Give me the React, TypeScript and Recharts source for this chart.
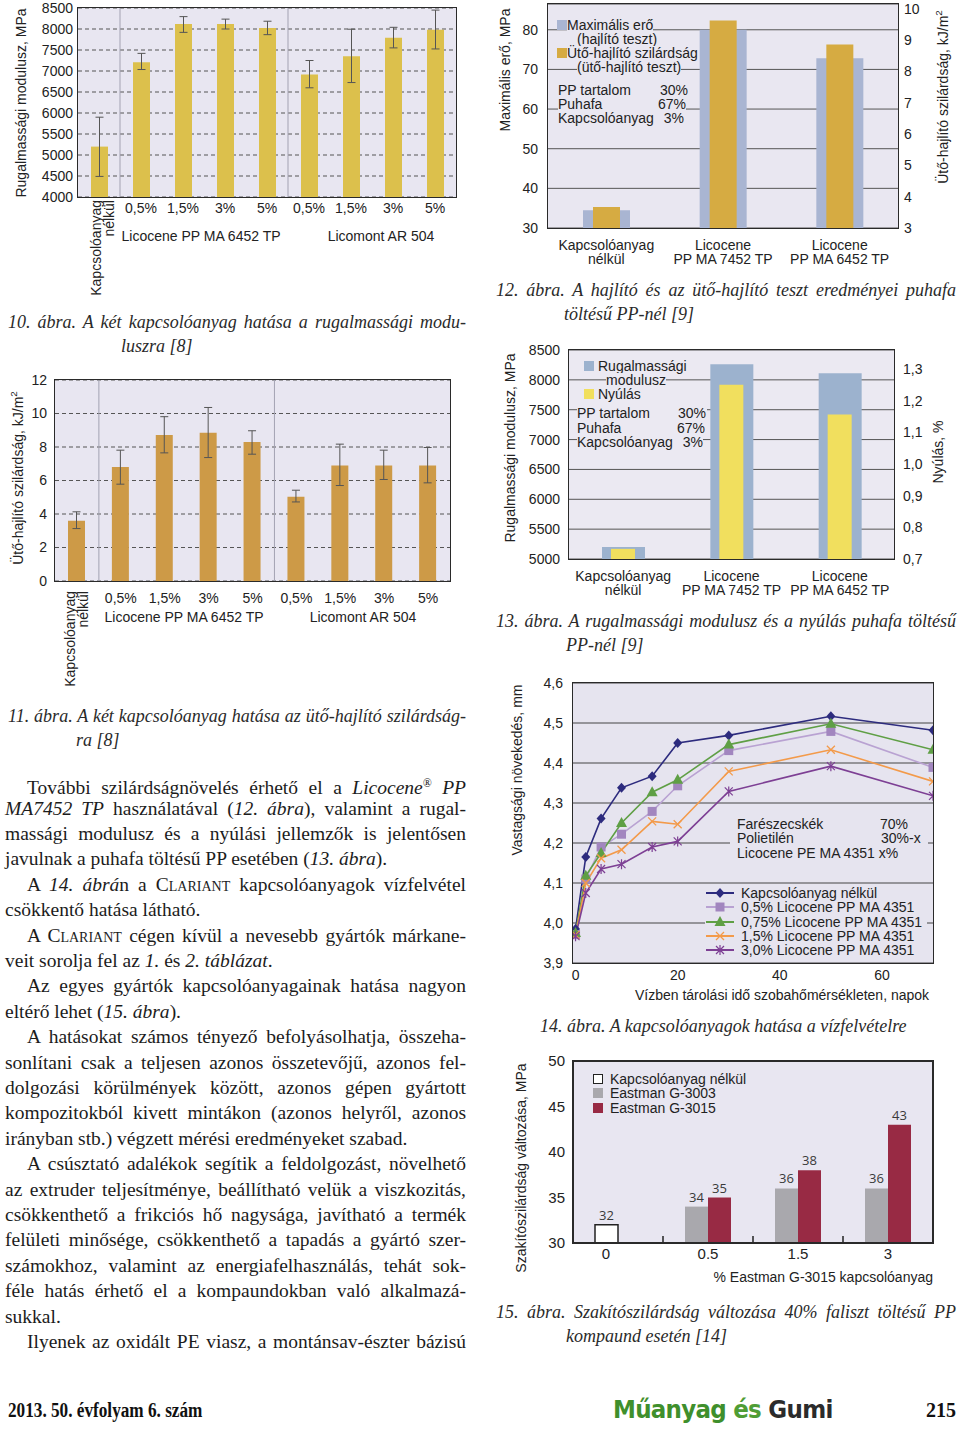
import React from 'react';
import {
  BarChart, Bar, XAxis, YAxis, CartesianGrid, ErrorBar, ReferenceLine,
  LineChart, Line, LabelList, Cell,
} from 'recharts';

const SANS = '"Liberation Sans", Arial, Helvetica, sans-serif';
const SERIF = '"Liberation Serif", "Times New Roman", serif';
const INK = '#222';
const PLOT_BG = '#e8e6f1';

// ---- 10. ábra: rugalmassági modulusz ----
const fig10Keys = ['none', 'lc05', 'lc15', 'lc3', 'lc5', 'lm05', 'lm15', 'lm3', 'lm5'];
const fig10Labels = ['Kapcsolóanyag nélkül', '0,5%', '1,5%', '3%', '5%', '0,5%', '1,5%', '3%', '5%'];
const fig10Modulus = [5200, 7210, 8120, 8120, 8025, 6915, 7350, 7790, 7985];
const fig10Low = [4490, 7035, 7920, 8000, 7865, 6600, 6725, 7550, 7525];
const fig10High = [5900, 7420, 8295, 8235, 8185, 7250, 7995, 8040, 8450];
const fig10Ticks = [4000, 4500, 5000, 5500, 6000, 6500, 7000, 7500, 8000, 8500];

// ---- 11. ábra: ütő-hajlító szilárdság ----
const fig11Impact = [3.6, 6.8, 8.72, 8.85, 8.3, 5.03, 6.9, 6.9, 6.9];
const fig11Low = [3.13, 5.78, 7.65, 7.37, 7.57, 4.72, 5.7, 6.06, 5.86];
const fig11High = [4.13, 7.81, 9.81, 10.36, 8.97, 5.42, 8.17, 7.81, 7.97];
const fig11Ticks = [0, 2, 4, 6, 8, 10, 12];

const groupSeparators = ['lc05', 'lm05'];

// ---- 12. ábra ----
const fig12Cats = ['Kapcsolóanyag\nnélkül', 'Licocene\nPP MA 7452 TP', 'Licocene\nPP MA 6452 TP'];
const fig12Force = [34.5, 80, 72.8];
const fig12Impact = [3.67, 9.62, 8.86];
const fig12LeftTicks = [30, 40, 50, 60, 70, 80];
const fig12RightTicks = [3, 4, 5, 6, 7, 8, 9, 10];

// ---- 13. ábra ----
const fig13Cats = ['Kapcsolóanyag\nnélkül', 'Licocene\nPP MA 7452 TP', 'Licocene\nPP MA 6452 TP'];
const fig13Modulus = [5200, 8260, 8110];
const fig13Elong = [0.732, 1.25, 1.156];
const fig13LeftTicks = [5000, 5500, 6000, 6500, 7000, 7500, 8000, 8500];
const fig13RightTicks = [0.7, 0.8, 0.9, 1.0, 1.1, 1.2, 1.3];

// ---- 14. ábra ----
const fig14Days = [0, 2, 5, 9, 15, 20, 30, 50, 70];
const fig14None = [3.985, 4.165, 4.261, 4.338, 4.367, 4.45, 4.469, 4.517, 4.482];
const fig14Lc05 = [3.971, 4.11, 4.19, 4.222, 4.279, 4.343, 4.431, 4.479, 4.389];
const fig14Lc075 = [3.975, 4.118, 4.175, 4.25, 4.327, 4.358, 4.446, 4.498, 4.433];
const fig14Lc15 = [3.97, 4.1, 4.162, 4.183, 4.254, 4.247, 4.379, 4.433, 4.354];
const fig14Lc30 = [3.967, 4.075, 4.135, 4.147, 4.19, 4.204, 4.329, 4.392, 4.318];
const fig14YTicks = [3.9, 4.0, 4.1, 4.2, 4.3, 4.4, 4.5, 4.6];
const fig14XTicks = [0, 20, 40, 60];

// ---- 15. ábra ----
const fig15Cats = ['0', '0.5', '1.5', '3'];
const fig15None = [32];
const fig15G3003 = [34, 36, 36];
const fig15G3015 = [35, 38, 43];
const fig15Ticks = [30, 35, 40, 45, 50];

const fig10Data = fig10Keys.map((k, i) => ({
  key: k,
  value: fig10Modulus[i],
  err: [fig10Modulus[i] - fig10Low[i], fig10High[i] - fig10Modulus[i]],
}));
const fig11Data = fig10Keys.map((k, i) => ({
  key: k,
  value: fig11Impact[i],
  err: [fig11Impact[i] - fig11Low[i], fig11High[i] - fig11Impact[i]],
}));
const fig12Data = fig12Cats.map((c, i) => ({ cat: c, force: fig12Force[i], impact: fig12Impact[i] }));
const fig13Data = fig13Cats.map((c, i) => ({ cat: c, modulus: fig13Modulus[i], elong: fig13Elong[i] }));
const fig14Data = fig14Days.map((d, i) => ({
  day: d, none: fig14None[i], lc05: fig14Lc05[i], lc075: fig14Lc075[i], lc15: fig14Lc15[i], lc30: fig14Lc30[i],
}));
const fig15Data = fig15Cats.map((c, i) => ({
  cat: c,
  left: i === 0 ? fig15None[0] : fig15G3003[i - 1],
  right: i === 0 ? null : fig15G3015[i - 1],
}));

const comma1 = (v: number) => v.toFixed(1).replace('.', ',');

// markers for fig 14
const marker = (kind: string, cx: number, cy: number, c: string) => {
  switch (kind) {
    case 'diamond':
      return <path d={`M${cx},${cy - 5}L${cx + 4.5},${cy}L${cx},${cy + 5}L${cx - 4.5},${cy}Z`} fill={c} />;
    case 'square':
      return <rect x={cx - 4.5} y={cy - 4.5} width={9} height={9} fill={c} />;
    case 'triangle':
      return <path d={`M${cx},${cy - 6}L${cx + 5.5},${cy + 4}L${cx - 5.5},${cy + 4}Z`} fill={c} />;
    case 'cross':
      return <path d={`M${cx - 4},${cy - 4}L${cx + 4},${cy + 4}M${cx + 4},${cy - 4}L${cx - 4},${cy + 4}`} stroke={c} strokeWidth={1.3} fill="none" />;
    default:
      return <path d={`M${cx - 4},${cy - 4}L${cx + 4},${cy + 4}M${cx + 4},${cy - 4}L${cx - 4},${cy + 4}M${cx},${cy - 5}L${cx},${cy + 5}`} stroke={c} strokeWidth={1.2} fill="none" />;
  }
};

const fig14Series = [
  { key: 'none', name: 'Kapcsolóanyag nélkül', line: '#2d2b7e', mark: '#2d2b7e', kind: 'diamond' },
  { key: 'lc05', name: '0,5% Licocene PP MA 4351', line: '#b9a2d2', mark: '#a286bf', kind: 'square' },
  { key: 'lc075', name: '0,75% Licocene PP MA 4351', line: '#5f9f45', mark: '#5f9f45', kind: 'triangle' },
  { key: 'lc15', name: '1,5% Licocene PP MA 4351', line: '#f39a4a', mark: '#f39a4a', kind: 'cross' },
  { key: 'lc30', name: '3,0% Licocene PP MA 4351', line: '#7d3f94', mark: '#7d3f94', kind: 'star' },
];

// ---------- helpers ----------
type TxtProps = { x: number; y: number; children: React.ReactNode; size?: number; anchor?: 'start' | 'middle' | 'end'; font?: string; style?: React.CSSProperties };
function Txt({ x, y, children, size = 14, anchor = 'start', font = SANS, style }: TxtProps) {
  const tx = anchor === 'middle' ? '-50%' : anchor === 'end' ? '-100%' : '0';
  return (
    <div style={{
      position: 'absolute', left: x, top: y, transform: `translate(${tx}, -50%)`,
      fontFamily: font, fontSize: size, lineHeight: 1, whiteSpace: 'nowrap', color: INK, ...style,
    }}>{children}</div>
  );
}

function VLabel({ x, y, children, size = 14 }: { x: number; y: number; children: React.ReactNode; size?: number }) {
  return (
    <div style={{
      position: 'absolute', left: x, top: y, transform: 'translate(-50%, -50%) rotate(-90deg)',
      fontFamily: SANS, fontSize: size, lineHeight: 1, whiteSpace: 'nowrap', color: INK,
    }}>{children}</div>
  );
}

function Frame({ x, y, w, h, bw = 1.5 }: { x: number; y: number; w: number; h: number; bw?: number }) {
  return (
    <div style={{
      position: 'absolute', left: x - bw / 2, top: y - bw / 2, width: w + bw, height: h + bw,
      border: `${bw}px solid #2a2a2a`, boxSizing: 'border-box', pointerEvents: 'none',
    }} />
  );
}

function Box({ x, y, w, h, children }: { x: number; y: number; w: number; h: number; children?: React.ReactNode }) {
  return <div style={{ position: 'absolute', left: x, top: y, width: w, height: h }}>{children}</div>;
}

function Swatch({ x, y, color, border }: { x: number; y: number; color: string; border?: string }) {
  return <div style={{ position: 'absolute', left: x, top: y - 5, width: 10, height: 10, background: color, border: border, boxSizing: 'border-box' }} />;
}

const makeGroupTick = (labels: string[], keys: string[], pctDy: number, l1: number, l2: number, rotTop: number) =>
  (props: any) => {
    const { x, y, payload } = props;
    const i = keys.indexOf(payload.value);
    if (i === 0) {
      return (
        <g transform={`translate(${x},${y + rotTop})`}>
          <text transform="rotate(-90)" textAnchor="end" fontSize={14} fontFamily={SANS} fill={INK}>
            <tspan x={0} y={l1}>Kapcsolóanyag</tspan>
            <tspan x={0} y={l2}>nélkül</tspan>
          </text>
        </g>
      );
    }
    return (
      <text x={x} y={y + pctDy} textAnchor="middle" fontSize={14} fontFamily={SANS} fill={INK}>{labels[i]}</text>
    );
  };

const makeTwoLineTick = (d1: number, d2: number) => (props: any) => {
  const { x, y, payload } = props;
  const [a, b] = String(payload.value).split('\n');
  return (
    <text textAnchor="middle" fontSize={14} fontFamily={SANS} fill={INK}>
      <tspan x={x} y={y + d1}>{a}</tspan>
      <tspan x={x} y={y + d2}>{b}</tspan>
    </text>
  );
};

const fig15Tick = (props: any) => {
  const { x, y, payload, index } = props;
  const half = 360 / fig15Cats.length / 2;
  return (
    <g>
      {index > 0 && <line x1={x - half} x2={x - half} y1={y} y2={y - 7} stroke="#222" strokeWidth={1.5} />}
      <text x={index === 0 ? x - 12 : x} y={y + 16} textAnchor="middle" fontSize={15} fontFamily={SANS} fill={INK}>{payload.value}</text>
    </g>
  );
};

const TopLabel = (p: any) => {
  if (p.value == null) return null;
  return (
    <text x={p.x + p.width / 2} y={p.y - 5} textAnchor="middle" fontSize={13} fontFamily='"Open Sans", "Noto Sans", sans-serif' fill="#3a3a3a">{p.value}</text>
  );
};

const yTick = { fontSize: 14, fill: INK, fontFamily: SANS };

// ---------- body text ----------
const I = ({ children }: { children: React.ReactNode }) => <i>{children}</i>;
const SC = ({ children }: { children: React.ReactNode }) => <span style={{ fontVariant: 'small-caps' }}>{children}</span>;

const bodyLines: { indent?: boolean; last?: boolean; node: React.ReactNode }[] = [
  { indent: true, node: <>További szilárdságnövelés érhető el a <I>Licocene<sup style={{ fontSize: '0.6em' }}>®</sup> PP</I></> },
  { node: <><I>MA7452 TP</I> használatával (<I>12. ábra</I>), valamint a rugal-</> },
  { node: <>massági modulusz és a nyúlási jellemzők is jelentősen</> },
  { last: true, node: <>javulnak a puhafa töltésű PP esetében (<I>13. ábra</I>).</> },
  { indent: true, node: <>A <I>14. ábrá</I>n a <SC>Clariant</SC> kapcsolóanyagok vízfelvétel</> },
  { last: true, node: <>csökkentő hatása látható.</> },
  { indent: true, node: <>A <SC>Clariant</SC> cégen kívül a nevesebb gyártók márkane-</> },
  { last: true, node: <>veit sorolja fel az <I>1.</I> és <I>2. táblázat</I>.</> },
  { indent: true, node: <>Az egyes gyártók kapcsolóanyagainak hatása nagyon</> },
  { last: true, node: <>eltérő lehet (<I>15. ábra</I>).</> },
  { indent: true, node: <>A hatásokat számos tényező befolyásolhatja, összeha-</> },
  { node: <>sonlítani csak a teljesen azonos összetevőjű, azonos fel-</> },
  { node: <>dolgozási körülmények között, azonos gépen gyártott</> },
  { node: <>kompozitokból kivett mintákon (azonos helyről, azonos</> },
  { last: true, node: <>irányban stb.) végzett mérési eredményeket szabad.</> },
  { indent: true, node: <>A csúsztató adalékok segítik a feldolgozást, növelhető</> },
  { node: <>az extruder teljesítménye, beállítható velük a viszkozitás,</> },
  { node: <>csökkenthető a frikciós hő nagysága, javítható a termék</> },
  { node: <>felületi minősége, csökkenthető a tapadás a gyártó szer-</> },
  { node: <>számokhoz, valamint az energiafelhasználás, tehát sok-</> },
  { node: <>féle hatás érhető el a kompaundokban való alkalmazá-</> },
  { last: true, node: <>sukkal.</> },
  { indent: true, node: <>Ilyenek az oxidált PE viasz, a montánsav-észter bázisú</> },
];

function Caption({ x, y, w, line1, line2, indent2 }: { x: number; y: number; w: number; line1: string; line2?: string; indent2?: number }) {
  const common: React.CSSProperties = { position: 'absolute', fontFamily: SERIF, fontStyle: 'italic', fontSize: 18, lineHeight: '24px', color: '#2a2a2a', whiteSpace: 'nowrap' };
  return (
    <>
      <div style={{ ...common, left: x, top: y - 12, width: w, textAlign: line2 ? 'justify' : 'left', textAlignLast: line2 ? 'justify' : 'left', whiteSpace: 'normal' }}>{line1}</div>
      {line2 && <div style={{ ...common, left: indent2, top: y + 12 }}>{line2}</div>}
    </>
  );
}

export default function App() {
  return (
    <div style={{ position: 'absolute', left: 0, top: 0, width: 960, height: 1429, background: '#fff', overflow: 'hidden' }}>
      {/* ---------- 10. ábra ---------- */}
      <Box x={0} y={0} w={470} h={300}>
        <BarChart width={470} height={300} data={fig10Data} margin={{ top: 8, right: 14, bottom: 0, left: 0 }} barSize={17}>
          <CartesianGrid vertical={false} fill={PLOT_BG} stroke="#555" strokeDasharray="4 3" />
          <XAxis dataKey="key" height={103} axisLine={false} tickLine={false} tickSize={0} tickMargin={0} interval={0}
            tick={makeGroupTick(fig10Labels, fig10Keys, 16, 2, 15, 3)} />
          <YAxis width={78} domain={[4000, 8500]} ticks={fig10Ticks} interval={0} axisLine={false} tickLine={false} tickSize={0} tickMargin={5} tick={yTick} allowDataOverflow />
          {groupSeparators.map((k) => (
            <ReferenceLine key={k} x={k} position="start" stroke="#a3a2b2" strokeWidth={1} />
          ))}
          <Bar dataKey="value" fill="#dcc04c" isAnimationActive={false}>
            <ErrorBar dataKey="err" width={4} stroke="#555" strokeWidth={1} direction="y" />
          </Bar>
        </BarChart>
      </Box>
      <Frame x={78} y={8} w={378} h={189} />
      <VLabel x={21} y={103}>Rugalmassági modulusz, MPa</VLabel>
      <Txt x={201} y={236} anchor="middle">Licocene PP MA 6452 TP</Txt>
      <Txt x={381} y={236} anchor="middle">Licomont AR 504</Txt>
      <Caption x={8} y={322} w={458} line1="10. ábra. A két kapcsolóanyag hatása a rugalmassági modu-" line2="luszra [8]" indent2={121} />

      {/* ---------- 11. ábra ---------- */}
      <Box x={0} y={360} w={470} h={340}>
        <BarChart width={470} height={340} data={fig11Data} margin={{ top: 20, right: 20, bottom: 0, left: 0 }} barSize={17}>
          <CartesianGrid vertical={false} fill={PLOT_BG} stroke="#555" strokeDasharray="4 3" />
          <XAxis dataKey="key" height={119} axisLine={false} tickLine={false} tickSize={0} tickMargin={0} interval={0}
            tick={makeGroupTick(fig10Labels, fig10Keys, 22, -2, 11, 10)} />
          <YAxis width={55} domain={[0, 12]} ticks={fig11Ticks} interval={0} axisLine={false} tickLine={false} tickSize={0} tickMargin={8} tick={yTick} />
          {groupSeparators.map((k) => (
            <ReferenceLine key={k} x={k} position="start" stroke="#a3a2b2" strokeWidth={1} />
          ))}
          <Bar dataKey="value" fill="#cd9a47" isAnimationActive={false}>
            <ErrorBar dataKey="err" width={4} stroke="#555" strokeWidth={1} direction="y" />
          </Bar>
        </BarChart>
      </Box>
      <Frame x={55} y={380} w={395} h={201} />
      <VLabel x={17} y={478}>Ütő-hajlító szilárdság, kJ/m<sup style={{ fontSize: '0.7em' }}>2</sup></VLabel>
      <Txt x={184} y={617} anchor="middle">Licocene PP MA 6452 TP</Txt>
      <Txt x={363} y={617} anchor="middle">Licomont AR 504</Txt>
      <Caption x={8} y={716} w={458} line1="11. ábra. A két kapcsolóanyag hatása az ütő-hajlító szilárdság-" line2="ra [8]" indent2={76} />

      {/* ---------- 12. ábra ---------- */}
      <Box x={490} y={0} w={470} h={270}>
        <BarChart width={470} height={270} data={fig12Data} margin={{ top: 4, right: 0, bottom: 0, left: 0 }}>
          <CartesianGrid vertical={false} fill="#e9e7f1" stroke="#555" xAxisId="a" yAxisId="left" />
          <XAxis xAxisId="a" dataKey="cat" height={42} axisLine={false} tickLine={false} tickSize={0} tickMargin={0} interval={0} tick={makeTwoLineTick(22, 36)} />
          <XAxis xAxisId="b" dataKey="cat" hide />
          <YAxis yAxisId="left" width={58} domain={[30, 86.5]} ticks={fig12LeftTicks} interval={0} axisLine={false} tickLine={false} tickSize={0} tickMargin={10} tick={yTick} allowDataOverflow />
          <YAxis yAxisId="right" orientation="right" width={62} domain={[3, 10.15]} ticks={fig12RightTicks} interval={0} axisLine={false} tickLine={false} tickSize={0} tickMargin={6} tick={yTick} allowDataOverflow />
          <Bar xAxisId="a" yAxisId="left" dataKey="force" fill="#a9b5d2" barSize={47} isAnimationActive={false} />
          <Bar xAxisId="b" yAxisId="right" dataKey="impact" fill="#d6ab42" barSize={27} isAnimationActive={false} />
        </BarChart>
      </Box>
      <Frame x={548} y={4} w={350} h={224} />
      <VLabel x={505} y={70}>Maximális erő, MPa</VLabel>
      <VLabel x={942} y={97}>Ütő-hajlító szilárdság, kJ/m<sup style={{ fontSize: '0.7em' }}>2</sup></VLabel>
      <Swatch x={557} y={25} color="#a9b5d2" />
      <Txt x={567} y={25} style={{ background: '#e9e7f1' }}>Maximális erő</Txt>
      <Txt x={577} y={39} style={{ background: '#e9e7f1' }}>(hajlító teszt)</Txt>
      <Swatch x={557} y={53} color="#d6ab42" />
      <Txt x={567} y={53} style={{ background: '#e9e7f1' }}>Ütő-hajlító szilárdság</Txt>
      <Txt x={577} y={67} style={{ background: '#e9e7f1' }}>(ütő-hajlító teszt)</Txt>
      <Txt x={558} y={90} style={{ background: '#e9e7f1', width: 130 }}>PP tartalom</Txt>
      <Txt x={688} y={90} anchor="end">30%</Txt>
      <Txt x={558} y={104} style={{ background: '#e9e7f1', width: 128 }}>Puhafa</Txt>
      <Txt x={686} y={104} anchor="end">67%</Txt>
      <Txt x={558} y={118} style={{ background: '#e9e7f1', width: 126 }}>Kapcsolóanyag</Txt>
      <Txt x={684} y={118} anchor="end">3%</Txt>
      <Caption x={496} y={290} w={460} line1="12. ábra. A hajlító és az ütő-hajlító teszt eredményei puhafa" line2="töltésű PP-nél [9]" indent2={564} />

      {/* ---------- 13. ábra ---------- */}
      <Box x={490} y={340} w={470} h={260}>
        <BarChart width={470} height={260} data={fig13Data} margin={{ top: 10, right: 0, bottom: 0, left: 0 }}>
          <CartesianGrid vertical={false} fill="#ebe9f2" stroke="#555" xAxisId="a" yAxisId="left" />
          <XAxis xAxisId="a" dataKey="cat" height={41} axisLine={false} tickLine={false} tickSize={0} tickMargin={0} interval={0} tick={makeTwoLineTick(22, 36)} />
          <XAxis xAxisId="b" dataKey="cat" hide />
          <YAxis yAxisId="left" width={79} domain={[5000, 8500]} ticks={fig13LeftTicks} interval={0} axisLine={false} tickLine={false} tickSize={0} tickMargin={9} tick={yTick} allowDataOverflow />
          <YAxis yAxisId="right" orientation="right" width={66} domain={[0.7, 1.36]} ticks={fig13RightTicks} interval={0} tickFormatter={comma1} axisLine={false} tickLine={false} tickSize={0} tickMargin={9} tick={yTick} allowDataOverflow />
          <Bar xAxisId="a" yAxisId="left" dataKey="modulus" fill="#9cb2ce" barSize={43} isAnimationActive={false} />
          <Bar xAxisId="b" yAxisId="right" dataKey="elong" fill="#f1df5e" barSize={24} isAnimationActive={false} />
        </BarChart>
      </Box>
      <Frame x={569} y={350} w={325} h={209} />
      <VLabel x={510} y={448}>Rugalmassági modulusz, MPa</VLabel>
      <VLabel x={938} y={452}>Nyúlás, %</VLabel>
      <Swatch x={584} y={366} color="#9cb2ce" />
      <Txt x={598} y={366} style={{ background: '#ebe9f2' }}>Rugalmassági</Txt>
      <Txt x={606} y={380} style={{ background: '#ebe9f2' }}>modulusz</Txt>
      <Swatch x={584} y={394} color="#f1df5e" />
      <Txt x={598} y={394} style={{ background: '#ebe9f2' }}>Nyúlás</Txt>
      <Txt x={577} y={413} style={{ background: '#ebe9f2', width: 130 }}>PP tartalom</Txt>
      <Txt x={706} y={413} anchor="end">30%</Txt>
      <Txt x={577} y={428} style={{ background: '#ebe9f2', width: 128 }}>Puhafa</Txt>
      <Txt x={705} y={428} anchor="end">67%</Txt>
      <Txt x={577} y={442} style={{ background: '#ebe9f2', width: 126 }}>Kapcsolóanyag</Txt>
      <Txt x={703} y={442} anchor="end">3%</Txt>
      <Caption x={496} y={621} w={460} line1="13. ábra. A rugalmassági modulusz és a nyúlás puhafa töltésű" line2="PP-nél [9]" indent2={566} />

      {/* ---------- 14. ábra ---------- */}
      <Box x={500} y={670} w={460} h={340}>
        <LineChart width={460} height={340} data={fig14Data} margin={{ top: 13, right: 27, bottom: 0, left: 0 }}>
          <CartesianGrid vertical={false} fill="#e6e4ef" stroke="#444" />
          <XAxis dataKey="day" type="number" domain={[-0.5, 70]} ticks={fig14XTicks} interval={0} height={47} axisLine={false} tickLine={false} tickSize={0} tickMargin={7} tick={yTick} allowDataOverflow />
          <YAxis width={73} domain={[3.9, 4.6]} ticks={fig14YTicks} interval={0} tickFormatter={comma1} axisLine={false} tickLine={false} tickSize={0} tickMargin={10} tick={yTick} allowDataOverflow />
          {fig14Series.map((s) => (
            <Line key={s.key} dataKey={s.key} type="linear" stroke={s.line} strokeWidth={1.6} isAnimationActive={false}
              dot={(p: any) => <g key={`${s.key}-${p.index}`}>{marker(s.kind, p.cx, p.cy, s.mark)}</g>} activeDot={false} />
          ))}
        </LineChart>
      </Box>
      <div style={{ position: 'absolute', left: 730, top: 815, width: 198, height: 46, background: '#e6e4ef' }} />
      <div style={{ position: 'absolute', left: 705, top: 886, width: 222, height: 70, background: '#e6e4ef' }} />
      <Frame x={573} y={683} w={360} h={280} />
      <Txt x={737} y={824}>Farészecskék</Txt>
      <Txt x={880} y={824}>70%</Txt>
      <Txt x={737} y={838}>Polietilén</Txt>
      <Txt x={881} y={838}>30%-x</Txt>
      <Txt x={737} y={853}>Licocene PE MA 4351 x%</Txt>
      {fig14Series.map((s, i) => (
        <React.Fragment key={s.key}>
          <svg style={{ position: 'absolute', left: 706, top: 893 + i * 14.3 - 7 }} width={28} height={14}>
            <line x1={0} x2={28} y1={7} y2={7} stroke={s.line} strokeWidth={2} />
            {marker(s.kind, 14, 7, s.mark)}
          </svg>
          <Txt x={741} y={893 + i * 14.3}>{s.name}</Txt>
        </React.Fragment>
      ))}
      <VLabel x={517} y={770}>Vastagsági növekedés, mm</VLabel>
      <Txt x={782} y={995} anchor="middle">Vízben tárolási idő szobahőmérsékleten, napok</Txt>
      <Caption x={540} y={1026} w={420} line1="14. ábra. A kapcsolóanyagok hatása a vízfelvételre" />

      {/* ---------- 15. ábra ---------- */}
      <Box x={500} y={1050} w={460} h={240}>
        <BarChart width={460} height={240} data={fig15Data} margin={{ top: 11, right: 27, bottom: 0, left: 0 }} barSize={23} barGap={0}>
          <CartesianGrid vertical={false} horizontal={false} fill="#e8e6f1" />
          <XAxis dataKey="cat" height={47} axisLine={false} tickLine={false} tickSize={0} tickMargin={0} interval={0} tick={fig15Tick} />
          <YAxis width={73} domain={[30, 50]} ticks={fig15Ticks} interval={0} axisLine={false} tickLine={false} tickSize={0} tickMargin={8} tick={{ ...yTick, fontSize: 15 }} allowDataOverflow />
          <Bar dataKey="left" isAnimationActive={false}>
            {fig15Data.map((d, i) => (
              <Cell key={d.cat} fill={i === 0 ? '#ffffff' : '#a9a8ad'} stroke={i === 0 ? '#222' : 'none'} strokeWidth={i === 0 ? 1.5 : 0} />
            ))}
            <LabelList dataKey="left" content={TopLabel} />
          </Bar>
          <Bar dataKey="right" fill="#982a44" isAnimationActive={false}>
            <LabelList dataKey="right" content={TopLabel} />
          </Bar>
        </BarChart>
      </Box>
      <Frame x={573} y={1061} w={360} h={182} bw={2} />
      <Swatch x={593} y={1079} color="#fff" border="1px solid #222" />
      <Txt x={610} y={1079}>Kapcsolóanyag nélkül</Txt>
      <Swatch x={593} y={1093} color="#a9a8ad" />
      <Txt x={610} y={1093}>Eastman G-3003</Txt>
      <Swatch x={593} y={1108} color="#982a44" />
      <Txt x={610} y={1108}>Eastman G-3015</Txt>
      <VLabel x={521} y={1168}>Szakítószilárdság változása, MPa</VLabel>
      <Txt x={933} y={1277} anchor="end">% Eastman G-3015 kapcsolóanyag</Txt>
      <Caption x={496} y={1312} w={460} line1="15. ábra. Szakítószilárdság változása 40% faliszt töltésű PP" line2="kompaund esetén [14]" indent2={566} />

      {/* ---------- body text ---------- */}
      <div style={{ position: 'absolute', left: 5, top: 770.3, width: 461, fontFamily: SERIF, fontSize: 19.5, color: '#1c1c1c' }}>
        {bodyLines.map((l, i) => (
          <div key={i} style={{
            height: 25.4, lineHeight: '25.4px', paddingLeft: l.indent ? 22 : 0,
            textAlign: l.last ? 'left' : 'justify', textAlignLast: l.last ? 'left' : 'justify', whiteSpace: 'nowrap', overflow: 'visible',
          }}>
            <span style={{ display: 'inline-block', width: l.last ? 'auto' : (l.indent ? 439 : 461), whiteSpace: 'normal', textAlign: l.last ? 'left' : 'justify', textAlignLast: l.last ? 'left' : 'justify' }}>{l.node}</span>
          </div>
        ))}
      </div>

      {/* ---------- footer ---------- */}
      <Txt x={8} y={1410} size={20} font={SERIF} style={{ fontWeight: 'bold', transform: 'translate(0,-50%) scaleX(0.86)', transformOrigin: 'left center', color: '#111' }}>2013. 50. évfolyam 6. szám</Txt>
      <Txt x={613} y={1409} size={25} font='"DejaVu Sans", sans-serif' style={{ fontWeight: 'bold', letterSpacing: -0.8, transform: 'translate(0,-50%) scaleX(0.92)', transformOrigin: 'left center' }}>
        <span style={{ color: '#3f8f2c' }}>Műanyag</span> <span style={{ color: '#4f9d35' }}>és</span> <span style={{ color: '#2b2b2b' }}>Gumi</span>
      </Txt>
      <Txt x={956} y={1410} size={20} font={SERIF} anchor="end" style={{ fontWeight: 'bold', color: '#111' }}>215</Txt>
    </div>
  );
}
